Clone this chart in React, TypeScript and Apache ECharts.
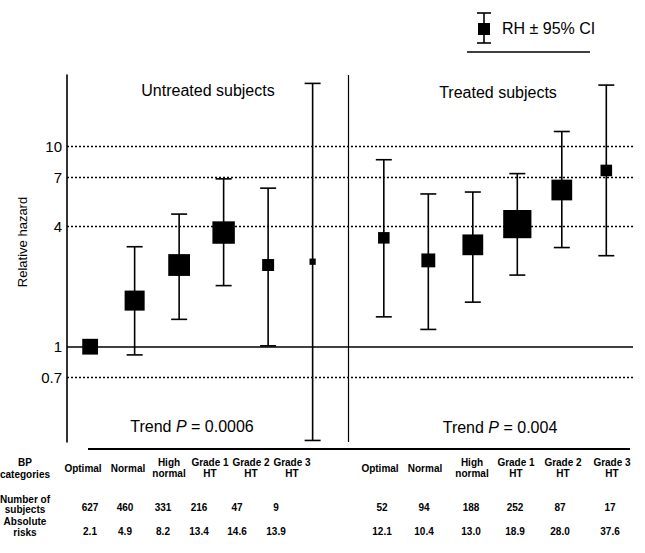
import React, { useEffect, useRef } from 'react';
import * as echarts from 'echarts';

// ---------- data ----------
const categories = ['Optimal', 'Normal', 'High\nnormal', 'Grade 1\nHT', 'Grade 2\nHT', 'Grade 3\nHT'];
const groups = ['Untreated subjects', 'Treated subjects'];
const trendP = ['0.0006', '0.004'];

const untreatedRH = [1.0, 1.7, 2.56, 3.72, 2.56, 2.66];
const untreatedLow = [null, 0.91, 1.37, 2.02, 1.01, 0.34];
const untreatedHigh = [null, 3.16, 4.6, 6.9, 6.2, 20.7];

const treatedRH = [3.5, 2.7, 3.23, 4.1, 6.07, 7.6];
const treatedLow = [1.41, 1.22, 1.67, 2.28, 3.13, 2.85];
const treatedHigh = [8.6, 5.8, 5.93, 7.33, 11.9, 20.3];

const untreatedN = [627, 460, 331, 216, 47, 9];
const treatedN = [52, 94, 188, 252, 87, 17];
const untreatedRisk = [2.1, 4.9, 8.2, 13.4, 14.6, 13.9];
const treatedRisk = [12.1, 10.4, 13.0, 18.9, 28.0, 37.6];

const refLines = [10, 7, 4, 1, 0.7];

// ---------- layout ----------
const FONT = 'Liberation Sans, Arial, Helvetica, sans-serif';
const GROUP_OFFSET = [0, 6.6];
const X_MIN = -0.52;
const X_MAX = 12.2;
const DIVIDER = 5.8;
const Y_MIN = 0.334;
const Y_MAX = 22.8;
const GRID = { left: 67, top: 75, right: 12, bottom: 111 };

const TABLE_LABEL_X = [[83, 128, 169, 210, 251, 292], [380, 425, 472, 516, 563, 612]];
const TABLE_VALUE_X = [[90, 125, 163, 199, 237, 276], [382, 424, 471, 515, 560, 610]];
const ROW_LABEL_Y = 468;
const ROW_N_Y = 507;
const ROW_RISK_Y = 531;

export default function App() {
  const ref = useRef<HTMLDivElement>(null);

  useEffect(() => {
    if (!ref.current) return;
    const chart = echarts.init(ref.current, undefined, { renderer: 'svg' });

    const rh = [untreatedRH, treatedRH];
    const lows = [untreatedLow, treatedLow];
    const highs = [untreatedHigh, treatedHigh];
    const ns = [untreatedN, treatedN];
    const risks = [untreatedRisk, treatedRisk];

    const points: any[] = [];
    const bars: any[] = [];
    for (let g = 0; g < 2; g++) {
      for (let i = 0; i < categories.length; i++) {
        const x = GROUP_OFFSET[g] + i;
        const events = (ns[g][i] * risks[g][i]) / 100;
        points.push([x, rh[g][i], events]);
        const lo = lows[g][i];
        const hi = highs[g][i];
        if (lo != null && hi != null) bars.push([x, lo, hi]);
      }
    }

    const graphics: any[] = [];
    const txt = (x: number, y: number, text: string, size: number, extra: any = {}) => ({
      type: 'text',
      x,
      y,
      silent: true,
      style: {
        text,
        fill: '#000',
        fontSize: size,
        fontFamily: FONT,
        align: 'center',
        verticalAlign: 'middle',
        ...extra,
      },
    });

    // group titles
    graphics.push(txt(208, 90, groups[0], 16));
    graphics.push(txt(498, 92, groups[1], 16));
    // trend texts
    const trendRich = {
      a: { fontSize: 16, fontFamily: FONT, fill: '#000' },
      b: { fontSize: 16, fontFamily: FONT, fontStyle: 'italic', fill: '#000' },
    };
    graphics.push(txt(192, 426, `{a|Trend }{b|P}{a| = ${trendP[0]}}`, 16, { rich: trendRich }));
    graphics.push(txt(500, 427, `{a|Trend }{b|P}{a| = ${trendP[1]}}`, 16, { rich: trendRich }));
    // y-axis title
    graphics.push({
      type: 'text',
      x: 22,
      y: 242,
      rotation: Math.PI / 2,
      silent: true,
      style: { text: 'Relative hazard', fill: '#000', fontSize: 13, fontFamily: FONT, align: 'center', verticalAlign: 'middle' },
    });
    // bottom line
    graphics.push({ type: 'line', shape: { x1: 88, y1: 449, x2: 630, y2: 449 }, style: { stroke: '#000', lineWidth: 2 } });

    // legend
    graphics.push({
      type: 'group',
      children: [
        { type: 'line', shape: { x1: 484, y1: 13, x2: 484, y2: 43 }, style: { stroke: '#000', lineWidth: 1.6 } },
        { type: 'line', shape: { x1: 477, y1: 13, x2: 491, y2: 13 }, style: { stroke: '#000', lineWidth: 1.6 } },
        { type: 'line', shape: { x1: 477, y1: 43, x2: 491, y2: 43 }, style: { stroke: '#000', lineWidth: 1.6 } },
        { type: 'rect', shape: { x: 478, y: 23, width: 12, height: 12 }, style: { fill: '#000' } },
        txt(502, 28, 'RH \u00b1 95% CI', 16, { align: 'left' }),
        { type: 'line', shape: { x1: 467, y1: 52, x2: 590, y2: 52 }, style: { stroke: '#000', lineWidth: 1.6 } },
      ],
    });

    // table row headers
    const tb = { fontWeight: 'bold' };
    graphics.push(txt(25, ROW_LABEL_Y, 'BP\ncategories', 10, { lineHeight: 12, ...tb }));
    graphics.push(txt(25, 504, 'Number of\nsubjects', 10, { lineHeight: 10, ...tb }));
    graphics.push(txt(25, 527, 'Absolute\nrisks', 10, { lineHeight: 11, ...tb }));
    for (let g = 0; g < 2; g++) {
      for (let i = 0; i < categories.length; i++) {
        graphics.push(txt(TABLE_LABEL_X[g][i], ROW_LABEL_Y, categories[i], 10, { lineHeight: 11, ...tb }));
        graphics.push(txt(TABLE_VALUE_X[g][i], ROW_N_Y, String(ns[g][i]), 10, tb));
        graphics.push(txt(TABLE_VALUE_X[g][i], ROW_RISK_Y, risks[g][i].toFixed(1), 10, tb));
      }
    }

    const markData: any[] = refLines.map((v) => ({
      name: String(v),
      yAxis: v,
      lineStyle:
        v === 1
          ? { type: 'solid', width: 1.6, color: '#000' }
          : { type: [2, 2], width: 1.3, color: '#000' },
    }));
    markData.push({
      name: 'divider',
      xAxis: DIVIDER,
      label: { show: false },
      lineStyle: { type: 'solid', width: 1.2, color: '#000' },
    });

    chart.setOption({
      animation: false,
      backgroundColor: '#fff',
      grid: GRID,
      xAxis: { type: 'value', min: X_MIN, max: X_MAX, show: false },
      yAxis: {
        type: 'log',
        logBase: 10,
        min: Y_MIN,
        max: Y_MAX,
        axisLine: { show: true, onZero: false, lineStyle: { color: '#000', width: 1.6 } },
        axisTick: { show: false },
        axisLabel: { show: false },
        splitLine: { show: false },
      },
      series: [
        {
          type: 'custom',
          data: bars,
          z: 3,
          silent: true,
          renderItem: (params: any, api: any) => {
            const x = api.value(0);
            const pLo = api.coord([x, api.value(1)]);
            const pHi = api.coord([x, api.value(2)]);
            const hw = 8;
            const style = { stroke: '#000', lineWidth: 1.6 };
            return {
              type: 'group',
              children: [
                { type: 'line', shape: { x1: pLo[0], y1: pLo[1], x2: pHi[0], y2: pHi[1] }, style },
                { type: 'line', shape: { x1: pLo[0] - hw, y1: pLo[1], x2: pLo[0] + hw, y2: pLo[1] }, style },
                { type: 'line', shape: { x1: pHi[0] - hw, y1: pHi[1], x2: pHi[0] + hw, y2: pHi[1] }, style },
              ],
            };
          },
        },
        {
          type: 'scatter',
          data: points,
          z: 4,
          silent: true,
          symbol: 'rect',
          symbolSize: (val: number[]) => 2 + 3.8 * Math.sqrt(val[2]),
          itemStyle: { color: '#000', opacity: 1 },
          markLine: {
            silent: true,
            symbol: 'none',
            animation: false,
            label: {
              show: true,
              position: 'start',
              formatter: '{b}',
              color: '#000',
              fontSize: 15,
              fontFamily: FONT,
              distance: 5,
            },
            data: markData,
          },
        },
      ],
      graphic: graphics,
    });

    return () => chart.dispose();
  }, []);

  return (
    <div
      ref={ref}
      style={{ position: 'fixed', left: 0, top: 0, width: 645, height: 553, background: '#fff' }}
    />
  );
}
